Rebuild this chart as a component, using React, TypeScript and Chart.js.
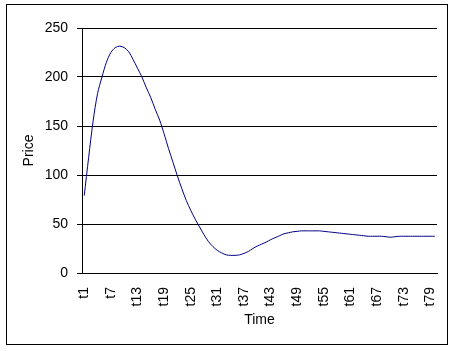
import React, { useEffect, useRef } from "react";
import { Chart, registerables } from "chart.js";

Chart.register(...registerables);

const timeLabels: string[] = Array.from({ length: 80 }, (_, i) => "t" + (i + 1));

const priceValues: number[] = [
  79, 118, 155, 183, 200, 215, 225, 230, 231.5, 230,
  226, 218, 209, 200, 189, 179, 167, 156, 142, 127,
  113, 99, 86, 74, 64, 55, 47, 39, 32, 27,
  23, 20.5, 18.5, 18, 18, 18.5, 20, 22, 25, 27.5,
  29.5, 31.5, 34, 36, 38, 40, 41, 42, 42.5, 43,
  43, 43, 43, 43, 42.5, 42, 41.5, 41, 40.5, 40,
  39.5, 39, 38.5, 38, 37.5, 37.5, 37.5, 37.5, 37, 36.5,
  37, 37.5, 37.5, 37.5, 37.5, 37.5, 37.5, 37.5, 37.5, 37.5,
];

const yTicks: number[] = [0, 50, 100, 150, 200, 250];
const labelStep = 6;

const FONT = "'Liberation Sans', Arial, sans-serif";

const framePlugin = {
  id: "frame",
  beforeDraw(chart: any) {
    const ctx = chart.ctx;
    ctx.save();
    ctx.fillStyle = "#ffffff";
    ctx.fillRect(0, 0, chart.width, chart.height);
    ctx.restore();
  },
  afterDraw(chart: any) {
    const ctx = chart.ctx;
    ctx.save();
    ctx.strokeStyle = "#000000";
    ctx.lineWidth = 1;
    ctx.strokeRect(6.5, 4.5, 441, 340);
    ctx.restore();
  },
};

export default function App() {
  const ref = useRef<HTMLCanvasElement | null>(null);

  useEffect(() => {
    if (!ref.current) return;
    const chart = new Chart(ref.current, {
      type: "line",
      data: {
        labels: timeLabels,
        datasets: [
          {
            label: "Price",
            data: priceValues,
            borderColor: "#000080",
            borderWidth: 1,
            pointRadius: 0,
            tension: 0.3,
            fill: false,
          },
        ],
      },
      options: {
        responsive: false,
        animation: false,
        devicePixelRatio: 1,
        layout: { padding: { left: 21, right: 16, top: 28, bottom: 22 } },
        plugins: {
          legend: { display: false },
          tooltip: { enabled: false },
        },
        scales: {
          x: {
            offset: true,
            grid: { display: false, drawTicks: false, offset: true },
            border: { display: true, color: "#000000", width: 1 },
            title: {
              display: true,
              text: "Time",
              color: "#000000",
              font: { family: FONT, size: 14 },
              padding: 0,
            },
            ticks: {
              autoSkip: false,
              minRotation: 90,
              maxRotation: 90,
              padding: 14,
              color: "#000000",
              font: { family: FONT, size: 14 },
              callback: (_v: any, i: number) => (i % labelStep === 0 ? timeLabels[i] : ""),
            },
            afterFit: (s: any) => {
              s.height = 56;
              s.paddingLeft = 0;
              s.paddingRight = 0;
            },
          },
          y: {
            min: 0,
            max: 250,
            afterBuildTicks: (s: any) => {
              s.ticks = yTicks.map((v) => ({ value: v }));
            },
            grid: { color: "#000000", lineWidth: 1, tickLength: 5, drawTicks: true },
            border: { display: true, color: "#000000", width: 1 },
            title: {
              display: true,
              text: "Price",
              color: "#000000",
              font: { family: FONT, size: 14 },
              padding: 0,
            },
            ticks: {
              padding: 9,
              color: "#000000",
              font: { family: FONT, size: 14 },
            },
            afterFit: (s: any) => {
              s.width = 61;
              s.paddingTop = 0;
              s.paddingBottom = 0;
            },
          },
        },
      },
      plugins: [framePlugin],
    });
    return () => chart.destroy();
  }, []);

  return (
    <div style={{ position: "fixed", left: 0, top: 0, width: 453, height: 351, background: "#fff" }}>
      <canvas ref={ref} width={453} height={351} style={{ display: "block" }} />
    </div>
  );
}
